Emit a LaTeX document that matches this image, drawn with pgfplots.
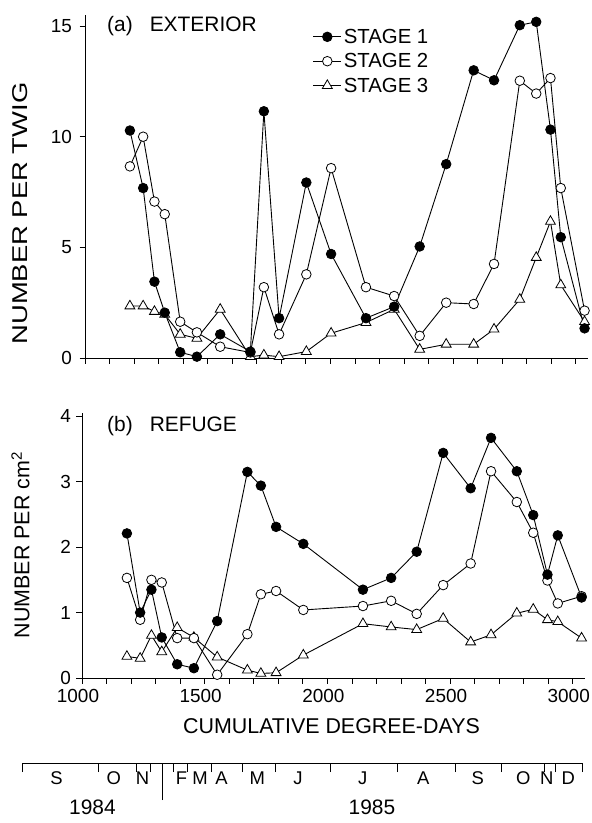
\documentclass[border=0pt]{standalone}
\usepackage{pgfplots}
\usepackage{pgfplotstable}
\usepackage{graphicx}
\pgfplotsset{compat=1.18}
\usepackage{fontspec}
\setmainfont{Liberation Sans}
\newcommand{\fs}[1]{\fontsize{#1}{#1}\selectfont}

\pgfplotstableread{
x s1 s2 s3
1183 10.28 8.66 2.35
1237 7.68 10.00 2.35
1283 3.45 7.07 2.10
1325 2.05 6.50 1.97
1388 0.26 1.64 1.07
1456 0.06 1.16 0.89
1551 1.07 0.51 2.20
1674 0.29 0.25 0.06
1729 11.15 3.20 0.13
1791 1.80 1.07 0.06
1902 7.93 3.78 0.29
2003 4.70 8.58 1.12
2145 1.80 3.20 1.60
2260 2.32 2.80 2.20
2364 5.04 1.00 0.39
2472 8.76 2.50 0.62
2584 13.00 2.44 0.62
2667 12.55 4.25 1.30
2772 15.04 12.53 2.65
2839 15.19 11.95 4.54
2897 10.32 12.65 6.17
2939 5.46 7.68 3.30
3036 1.34 2.14 1.64
}\tabA

\pgfplotstableread{
x s1 s2 s3
1183 2.21 1.53 0.33
1237 1.00 0.89 0.30
1283 1.35 1.50 0.65
1325 0.62 1.46 0.40
1388 0.21 0.61 0.77
1456 0.15 0.61 0.62
1551 0.87 0.05 0.32
1674 3.15 0.67 0.12
1729 2.94 1.28 0.07
1791 2.31 1.33 0.08
1902 2.05 1.04 0.35
2145 1.35 1.10 0.83
2260 1.53 1.18 0.78
2364 1.93 0.98 0.74
2472 3.44 1.42 0.91
2584 2.90 1.75 0.55
2667 3.67 3.16 0.66
2772 3.16 2.69 0.99
2839 2.49 2.22 1.05
2897 1.58 1.49 0.89
2939 2.18 1.14 0.86
3036 1.23 1.25 0.61
}\tabB

\pgfplotsset{
  panel/.style={
    scale only axis, width=503bp, xmin=1000, xmax=3050, ymin=0,
    axis x line=bottom, axis y line=left,
    axis line style={-, line width=0.9bp, black},
    tick align=outside, major tick length=5.5bp, minor tick length=5.5bp,
    every tick/.style={line width=0.8bp, black},
    xtick={1000,1500,...,3000}, minor xtick={1100,1200,...,2900},
    /pgf/number format/assume math mode=true,
    /pgf/number format/1000 sep={},
    tick label style={font=\fs{19}},
    clip=false,
  },
  s1/.style={black, line width=0.9bp, mark=*, mark size=4.8bp, mark options={fill=black, solid, line width=0.8bp}},
  s2/.style={black, line width=0.9bp, mark=*, mark size=4.8bp, mark options={fill=white, solid, line width=0.8bp}},
  s3/.style={black, line width=0.9bp, mark=triangle*, mark size=5.7bp, mark options={fill=white, solid, line width=0.8bp}},
}
\newcommand{\lgd}[1]{\scalebox{1.24}{\fs{16.5}\rule{0pt}{12bp}#1}}

\begin{document}
\begin{tikzpicture}
\useasboundingbox (0,0) rectangle (592bp,-823bp);

% Panel (a)
\begin{axis}[panel, at={(85bp,-358bp)}, anchor=south west, height=343bp,
  ymax=15.5, ytick={0,5,10,15}, xticklabels={},
  yticklabel style={xshift=-4bp},
  reverse legend,
  legend style={at={(0.453,0.966)}, anchor=north west, draw=none, fill=none,
    inner sep=0pt, outer sep=0pt, row sep=4bp, font=\fs{16.5}},
  legend cell align=left,
  legend image code/.code={\draw[mark repeat=2,mark phase=2] plot coordinates {(0bp,0bp) (14bp,0bp) (28bp,0bp)};},
]
\addplot[s3] table[x=x,y=s3]{\tabA};
\addlegendentry{\lgd{STAGE 3}}
\addplot[s2] table[x=x,y=s2]{\tabA};
\addlegendentry{\lgd{STAGE 2}}
\addplot[s1] table[x=x,y=s1]{\tabA};
\addlegendentry{\lgd{STAGE 1}}
\end{axis}

% Panel (b)
\begin{axis}[panel, at={(82bp,-678bp)}, anchor=south west, height=265bp,
  ymax=4.05, ytick={0,1,2,3,4},
  yticklabel style={xshift=-2bp},
  xticklabel style={yshift=-2bp, xshift=-4bp},
]
\addplot[s3] table[x=x,y=s3]{\tabB};
\addplot[s2] table[x=x,y=s2]{\tabB};
\addplot[s1] table[x=x,y=s1]{\tabB};
\end{axis}

% Month scale
\begin{axis}[scale only axis, at={(22.7bp,-763bp)}, anchor=south west,
  width=560bp, height=10bp, xmin=758.4, xmax=3040.3, ymin=0, ymax=1,
  axis x line=bottom, axis y line=none,
  axis line style={-, line width=0.9bp, black},
  tick align=outside,
  every tick/.style={line width=0.8bp, black},
  xtick={896.7,1130,1247,1406,1481,1569,1714,1880,2144,2391,2613,2798,2894,2982},
  xticklabels={S,O,N,F,M,A,M,J,J,A,S,O,N,D},
  major tick length=0pt,
  minor xtick={758.4,1066.4,1222.9,1280,1372,1430.7,1528.5,1654.8,1786.5,2010.6,2284.8,2520,2710.3,2882.6,2930.3,3040.3},
  minor tick length=9bp,
  extra x ticks={1327.2}, extra x tick labels={},
  extra x tick style={major tick length=37bp},
  xticklabel style={font=\fs{18.5}, yshift=-5bp},
  clip=false,
]
\end{axis}

% Texts
\node[font=\fs{21}, anchor=base west, inner sep=0pt] at (107bp,-31bp) {(a)\hspace{17bp}EXTERIOR};
\node[font=\fs{21}, anchor=base west, inner sep=0pt] at (107bp,-431bp) {(b)\hspace{17bp}REFUGE};
\node[font=\fs{21.5}, rotate=90] at (20.5bp,-213.5bp) {\scalebox{1.28}[1]{NUMBER PER TWIG}};
\node[font=\fs{21.5}, rotate=90] at (20.5bp,-545bp) {NUMBER PER cm\textsuperscript{2}};
\node[font=\fs{21.5}] at (331.5bp,-726bp) {CUMULATIVE DEGREE-DAYS};
\node[font=\fs{21}] at (92.5bp,-807bp) {1984};
\node[font=\fs{21}] at (372bp,-807bp) {1985};
\end{tikzpicture}
\end{document}
